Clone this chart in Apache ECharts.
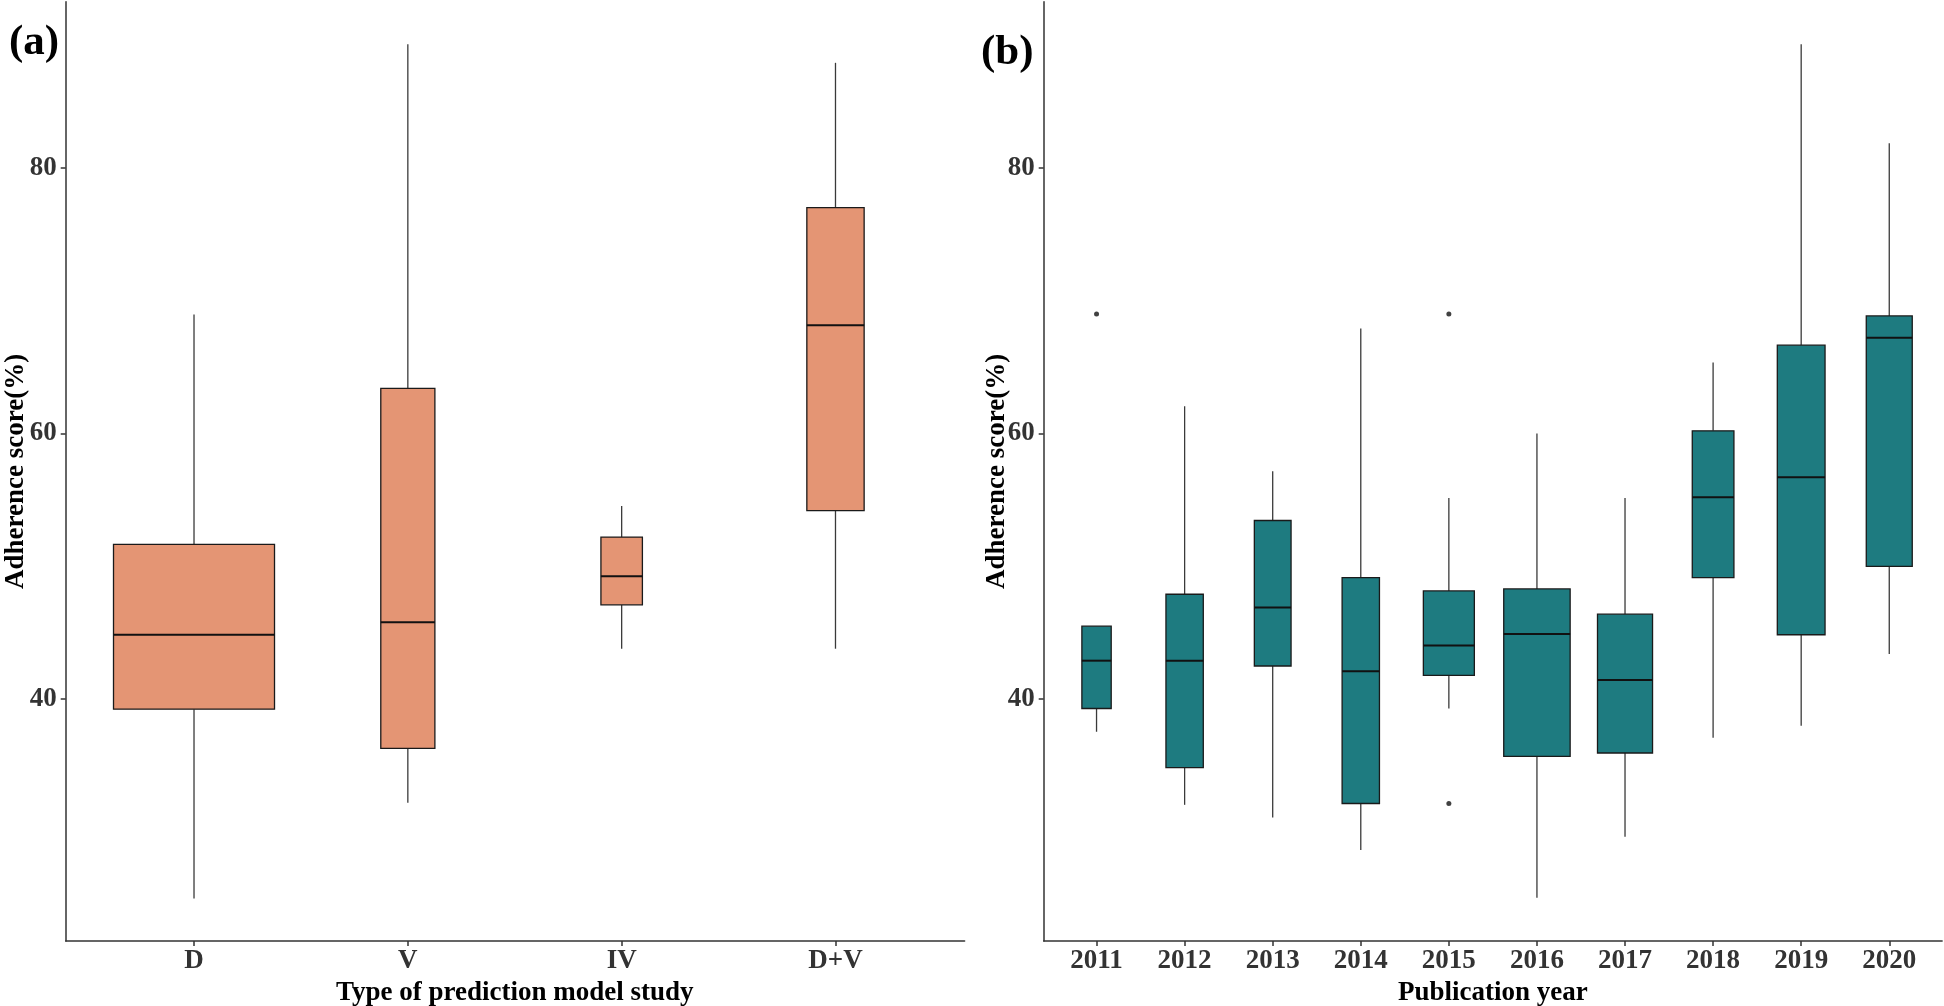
<!DOCTYPE html>
<html><head><meta charset="utf-8">
<script src="https://cdn.jsdelivr.net/npm/echarts@6/dist/echarts.min.js"></script>
<style>html,body{margin:0;padding:0;background:#fff}#c{width:1944px;height:1006px}</style>
</head><body><div id="c"></div>
<script>
// ---- Panel (a) data: Type of prediction model study ----
const categoriesA = ['D', 'V', 'IV', 'D+V'];
const lowA    = [25.0, 32.2, 43.8, 43.8];
const q1A     = [39.25, 36.3, 47.1, 54.2];
const medianA = [44.85, 45.8, 49.25, 68.15];
const q3A     = [51.65, 63.4, 52.2, 77.0];
const highA   = [68.95, 89.3, 54.55, 87.9];

// ---- Panel (b) data: Publication year ----
const categoriesB = ['2011', '2012', '2013', '2014', '2015', '2016', '2017', '2018', '2019', '2020'];
const lowB    = [37.55, 32.05, 31.1, 28.65, 39.3, 25.05, 29.65, 37.1, 38.0, 43.4];
const q1B     = [39.3, 34.85, 42.5, 32.15, 41.8, 35.7, 35.95, 49.15, 44.85, 50.0];
const medianB = [42.9, 42.9, 46.9, 42.1, 44.05, 44.9, 41.45, 55.2, 56.7, 67.2];
const q3B     = [45.5, 47.9, 53.45, 49.15, 48.15, 48.3, 46.4, 60.2, 66.65, 68.85];
const highB   = [45.5, 62.05, 57.15, 67.9, 55.15, 60.0, 55.15, 65.35, 89.3, 81.85];
const outlierCatB = ['2011', '2015', '2015'];
const outlierValB = [69.0, 69.0, 32.15];

const yTicks = [40, 60, 80];
const yMin = 21.8, yMax = 92.5;

// ---- style (varwidth box widths as fraction of category band) ----
const boxWidthA = [0.753, 0.253, 0.194, 0.268];
const boxWidthB = [0.333, 0.424, 0.417, 0.424, 0.579, 0.754, 0.625, 0.473, 0.542, 0.522];

const FONT = "'Liberation Serif', 'Times New Roman', serif";
const fillA = '#E49574';
const fillB = '#1E7B80';

function boxData(low, q1, med, q3, high) {
  return low.map((v, i) => [i, low[i], q1[i], med[i], q3[i], high[i]]);
}

function makeRender(widths, fill) {
  return function (params, api) {
    const x = api.value(0);
    const pLow = api.coord([x, api.value(1)]);
    const pQ1 = api.coord([x, api.value(2)]);
    const pMed = api.coord([x, api.value(3)]);
    const pQ3 = api.coord([x, api.value(4)]);
    const pHigh = api.coord([x, api.value(5)]);
    const band = api.size([1, 0])[0];
    const w = band * widths[params.dataIndex];
    const cx = pMed[0];
    const whisk = { stroke: '#3a3a3a', lineWidth: 1.3 };
    return {
      type: 'group',
      children: [
        { type: 'line', shape: { x1: cx, y1: pLow[1], x2: cx, y2: pQ1[1] }, style: whisk },
        { type: 'line', shape: { x1: cx, y1: pQ3[1], x2: cx, y2: pHigh[1] }, style: whisk },
        { type: 'rect', shape: { x: cx - w / 2, y: pQ3[1], width: w, height: pQ1[1] - pQ3[1] },
          style: { fill: fill, stroke: '#1a1a1a', lineWidth: 1.3 } },
        { type: 'line', shape: { x1: cx - w / 2, y1: pMed[1], x2: cx + w / 2, y2: pMed[1] },
          style: { stroke: '#111', lineWidth: 2 } }
      ]
    };
  };
}

const tickLabelStyle = { fontFamily: FONT, fontWeight: 'bold', fontSize: 27, color: '#333' };
const nameStyle = { fontFamily: FONT, fontWeight: 'bold', fontSize: 27, color: '#000' };
const lineStyle = { color: '#333', width: 1.5 };

function visibleY(gridIndex, gap) {
  return {
    type: 'value', gridIndex: gridIndex, min: yMin, max: yMax,
    axisLine: { show: true, onZero: false, lineStyle: lineStyle },
    axisTick: { show: true, length: 5, lineStyle: lineStyle, customValues: yTicks },
    axisLabel: Object.assign({ show: true, margin: 9, customValues: yTicks }, tickLabelStyle),
    splitLine: { show: false },
    name: 'Adherence score(%)', nameLocation: 'middle', nameGap: gap, nameRotate: 90,
    nameMoveOverlap: false,
    nameTextStyle: nameStyle
  };
}
function hiddenY(gridIndex) {
  return { type: 'value', gridIndex: gridIndex, min: yMin, max: yMax, show: false };
}
function lineX(gridIndex) {
  return {
    type: 'value', gridIndex: gridIndex, min: 0, max: 1,
    axisLine: { show: true, onZero: false, lineStyle: lineStyle },
    axisTick: { show: false }, axisLabel: { show: false }, splitLine: { show: false }
  };
}
function catX(gridIndex, cats, name) {
  return {
    type: 'category', gridIndex: gridIndex, data: cats, boundaryGap: true,
    axisLine: { show: false },
    axisTick: { show: true, alignWithLabel: true, length: 5, lineStyle: lineStyle },
    axisLabel: Object.assign({ show: true, margin: 7, interval: 0 }, tickLabelStyle),
    splitLine: { show: false },
    name: name, nameLocation: 'middle', nameGap: 34, nameTextStyle: nameStyle
  };
}

const option = {
  backgroundColor: '#fff',
  animation: false,
  title: [
    { text: '(a)', left: 4, top: 16, textStyle: { fontFamily: FONT, fontWeight: 'bold', fontSize: 43, color: '#000' } },
    { text: '(b)', left: 976, top: 26, textStyle: { fontFamily: FONT, fontWeight: 'bold', fontSize: 43, color: '#000' } }
  ],
  grid: [
    { left: 65.7, top: 1.7, width: 898.9, height: 939.3, outerBoundsMode: 'none' },
    { left: 87.1, top: 1.7, width: 855.3, height: 939.3, outerBoundsMode: 'none' },
    { left: 1043.7, top: 1.7, width: 898.4, height: 939.3, outerBoundsMode: 'none' },
    { left: 1052.5, top: 1.7, width: 880.8, height: 939.3, outerBoundsMode: 'none' }
  ],
  xAxis: [
    lineX(0),
    catX(1, categoriesA, 'Type of prediction model study'),
    lineX(2),
    catX(3, categoriesB, 'Publication year')
  ],
  yAxis: [
    visibleY(0, 36),
    hiddenY(1),
    visibleY(2, 33),
    hiddenY(3)
  ],
  series: [
    {
      type: 'custom', xAxisIndex: 1, yAxisIndex: 1,
      renderItem: makeRender(boxWidthA, fillA),
      encode: { x: 0, y: [1, 2, 3, 4, 5] },
      data: boxData(lowA, q1A, medianA, q3A, highA)
    },
    {
      type: 'custom', xAxisIndex: 3, yAxisIndex: 3,
      renderItem: makeRender(boxWidthB, fillB),
      encode: { x: 0, y: [1, 2, 3, 4, 5] },
      data: boxData(lowB, q1B, medianB, q3B, highB)
    },
    {
      type: 'scatter', xAxisIndex: 3, yAxisIndex: 3,
      symbol: 'circle', symbolSize: 5,
      itemStyle: { color: '#111' },
      data: outlierCatB.map((c, i) => [c, outlierValB[i]])
    }
  ]
};

const chart = echarts.init(document.getElementById('c'), null, { renderer: 'canvas' });
chart.setOption(option);
</script>
</body></html>
